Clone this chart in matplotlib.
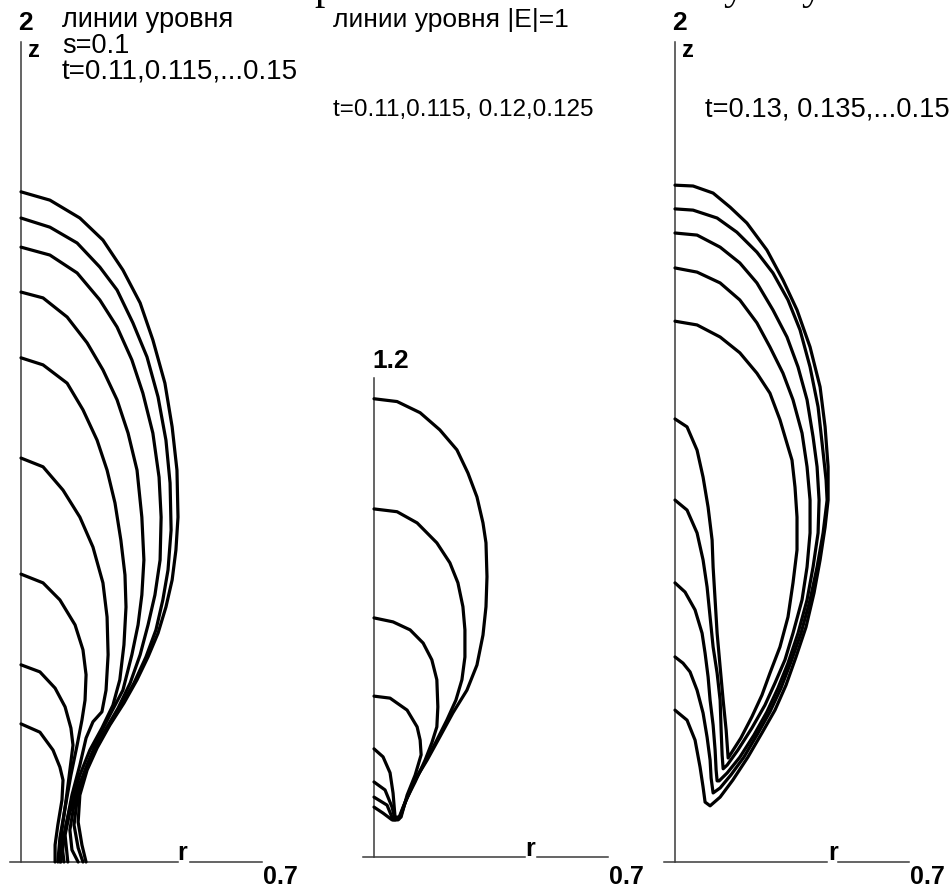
import matplotlib
matplotlib.use('Agg')
import matplotlib.pyplot as plt

# level lines |E|=1, left panel: s=0.1, t=0.11,0.115,...0.15
p1_r = [
	[0, 0.084, 0.171, 0.238, 0.296, 0.346, 0.383, 0.418, 0.439, 0.453, 0.456, 0.450, 0.439, 0.421, 0.398, 0.369, 0.337, 0.299, 0.258, 0.221, 0.192, 0.171, 0.166, 0.177, 0.189],
	[0, 0.084, 0.163, 0.229, 0.279, 0.325, 0.366, 0.398, 0.421, 0.433, 0.436, 0.427, 0.412, 0.392, 0.363, 0.328, 0.287, 0.247, 0.212, 0.183, 0.163, 0.154, 0.166, 0.180],
	[0, 0.084, 0.163, 0.229, 0.279, 0.322, 0.354, 0.383, 0.401, 0.407, 0.404, 0.389, 0.369, 0.346, 0.317, 0.282, 0.241, 0.206, 0.177, 0.154, 0.142, 0.148, 0.166],
	[0, 0.064, 0.134, 0.192, 0.238, 0.279, 0.311, 0.337, 0.351, 0.357, 0.351, 0.340, 0.322, 0.296, 0.258, 0.224, 0.195, 0.166, 0.142, 0.128, 0.136],
	[0, 0.064, 0.134, 0.180, 0.221, 0.250, 0.273, 0.290, 0.302, 0.305, 0.299, 0.287, 0.267, 0.235, 0.200, 0.171, 0.148, 0.131, 0.119, 0.125],
	[0, 0.064, 0.122, 0.171, 0.209, 0.238, 0.250, 0.253, 0.247, 0.235, 0.209, 0.189, 0.171, 0.148, 0.131, 0.116],
	[0, 0.064, 0.113, 0.157, 0.180, 0.189, 0.186, 0.177, 0.163, 0.145, 0.128, 0.113, 0.107],
	[0, 0.055, 0.099, 0.128, 0.145, 0.151, 0.142, 0.131, 0.119, 0.113],
	[0, 0.055, 0.093, 0.113, 0.122, 0.119, 0.107, 0.099, 0.099],
]
p1_z = [
	[1.611, 1.591, 1.548, 1.495, 1.423, 1.344, 1.255, 1.151, 1.046, 0.942, 0.829, 0.750, 0.678, 0.613, 0.550, 0.493, 0.438, 0.382, 0.329, 0.274, 0.221, 0.161, 0.096, 0.041, 0.0],
	[1.548, 1.526, 1.488, 1.430, 1.375, 1.296, 1.214, 1.118, 1.014, 0.911, 0.798, 0.702, 0.630, 0.558, 0.493, 0.430, 0.370, 0.317, 0.264, 0.209, 0.149, 0.089, 0.034, 0.0],
	[1.478, 1.459, 1.416, 1.351, 1.286, 1.207, 1.127, 1.031, 0.925, 0.829, 0.726, 0.642, 0.570, 0.498, 0.430, 0.370, 0.312, 0.255, 0.197, 0.137, 0.077, 0.029, 0.0],
	[1.370, 1.356, 1.310, 1.248, 1.183, 1.111, 1.031, 0.942, 0.829, 0.726, 0.642, 0.570, 0.498, 0.413, 0.353, 0.298, 0.240, 0.178, 0.120, 0.065, 0.0],
	[1.212, 1.195, 1.151, 1.087, 1.014, 0.942, 0.863, 0.774, 0.690, 0.613, 0.522, 0.438, 0.377, 0.322, 0.269, 0.209, 0.149, 0.089, 0.041, 0.0],
	[0.971, 0.950, 0.894, 0.829, 0.757, 0.671, 0.589, 0.498, 0.413, 0.361, 0.337, 0.298, 0.233, 0.161, 0.089, 0.0],
	[0.692, 0.671, 0.630, 0.570, 0.510, 0.450, 0.389, 0.341, 0.281, 0.209, 0.130, 0.058, 0.0],
	[0.474, 0.457, 0.418, 0.373, 0.322, 0.281, 0.221, 0.149, 0.077, 0.0],
	[0.332, 0.312, 0.269, 0.228, 0.197, 0.149, 0.089, 0.041, 0.0],
]

# middle panel: t=0.11,0.115,0.12,0.125 (closed contours)
p2_r = [
	[0, 0.069, 0.138, 0.197, 0.248, 0.281, 0.308, 0.326, 0.335, 0.338, 0.335, 0.326, 0.308, 0.278, 0.236, 0.197, 0.159, 0.117, 0.087, 0.072, 0.054, 0.027, 0],
	[0, 0.069, 0.129, 0.188, 0.227, 0.251, 0.266, 0.272, 0.272, 0.263, 0.245, 0.218, 0.185, 0.153, 0.120, 0.090, 0.075, 0.057, 0.039, 0],
	[0, 0.057, 0.108, 0.147, 0.173, 0.188, 0.191, 0.188, 0.173, 0.153, 0.123, 0.096, 0.078, 0.063, 0.054, 0.033, 0],
	[0, 0.048, 0.099, 0.129, 0.138, 0.141, 0.123, 0.099, 0.081, 0.063, 0.057, 0.048, 0.027, 0],
]
p2_z = [
	[1.148, 1.141, 1.113, 1.070, 1.020, 0.962, 0.902, 0.837, 0.787, 0.702, 0.627, 0.556, 0.481, 0.418, 0.361, 0.301, 0.243, 0.185, 0.125, 0.093, 0.093, 0.110, 0.125],
	[0.872, 0.865, 0.837, 0.787, 0.737, 0.687, 0.627, 0.569, 0.501, 0.444, 0.393, 0.343, 0.288, 0.238, 0.188, 0.130, 0.095, 0.093, 0.130, 0.150],
	[0.599, 0.589, 0.569, 0.536, 0.494, 0.444, 0.376, 0.326, 0.286, 0.243, 0.188, 0.143, 0.098, 0.093, 0.125, 0.168, 0.188],
	[0.403, 0.398, 0.368, 0.326, 0.293, 0.256, 0.205, 0.155, 0.100, 0.100, 0.160, 0.211, 0.251, 0.271],
]

# right panel: t=0.13,0.135,...0.15 (closed contours)
p3_r = [
	[0, 0.054, 0.114, 0.165, 0.215, 0.275, 0.323, 0.365, 0.404, 0.434, 0.449, 0.458, 0.458, 0.449, 0.434, 0.416, 0.392, 0.362, 0.332, 0.299, 0.260, 0.218, 0.173, 0.135, 0.105, 0.090, 0.084, 0.075, 0.060, 0.036, 0],
	[0, 0.054, 0.126, 0.185, 0.245, 0.293, 0.338, 0.374, 0.404, 0.428, 0.440, 0.452, 0.455, 0.443, 0.425, 0.404, 0.377, 0.347, 0.317, 0.284, 0.245, 0.206, 0.167, 0.135, 0.114, 0.108, 0.105, 0.096, 0.084, 0.066, 0.045, 0.024, 0],
	[0, 0.066, 0.135, 0.194, 0.245, 0.293, 0.335, 0.368, 0.395, 0.413, 0.425, 0.431, 0.428, 0.413, 0.395, 0.368, 0.338, 0.308, 0.275, 0.236, 0.194, 0.156, 0.132, 0.126, 0.123, 0.120, 0.114, 0.105, 0.099, 0.090, 0.081, 0.060, 0.030, 0],
	[0, 0.066, 0.135, 0.194, 0.245, 0.284, 0.323, 0.353, 0.380, 0.395, 0.404, 0.404, 0.395, 0.380, 0.353, 0.329, 0.299, 0.269, 0.230, 0.188, 0.156, 0.144, 0.141, 0.138, 0.135, 0.126, 0.114, 0.105, 0.096, 0.084, 0.066, 0.036, 0],
	[0, 0.066, 0.135, 0.194, 0.245, 0.284, 0.314, 0.338, 0.350, 0.359, 0.365, 0.365, 0.353, 0.338, 0.314, 0.284, 0.260, 0.230, 0.197, 0.170, 0.159, 0.153, 0.144, 0.135, 0.126, 0.120, 0.114, 0.111, 0.099, 0.084, 0.066, 0.036, 0],
]
p3_z = [
	[1.627, 1.625, 1.608, 1.574, 1.536, 1.471, 1.399, 1.327, 1.238, 1.142, 1.046, 0.950, 0.870, 0.805, 0.726, 0.647, 0.565, 0.493, 0.425, 0.365, 0.310, 0.252, 0.197, 0.156, 0.135, 0.144, 0.180, 0.228, 0.293, 0.341, 0.365],
	[1.570, 1.567, 1.548, 1.514, 1.466, 1.416, 1.351, 1.279, 1.190, 1.094, 1.007, 0.918, 0.870, 0.791, 0.709, 0.630, 0.550, 0.481, 0.418, 0.361, 0.305, 0.252, 0.209, 0.178, 0.166, 0.202, 0.245, 0.300, 0.358, 0.413, 0.457, 0.478, 0.493],
	[1.512, 1.507, 1.478, 1.440, 1.392, 1.327, 1.262, 1.190, 1.111, 1.022, 0.950, 0.870, 0.791, 0.709, 0.630, 0.550, 0.478, 0.418, 0.361, 0.305, 0.252, 0.214, 0.195, 0.195, 0.221, 0.269, 0.329, 0.389, 0.445, 0.502, 0.550, 0.606, 0.649, 0.671],
	[1.428, 1.418, 1.392, 1.351, 1.296, 1.238, 1.175, 1.111, 1.031, 0.950, 0.870, 0.791, 0.709, 0.630, 0.550, 0.486, 0.430, 0.377, 0.322, 0.269, 0.233, 0.224, 0.257, 0.317, 0.389, 0.454, 0.517, 0.589, 0.661, 0.726, 0.791, 0.846, 0.870],
	[1.300, 1.291, 1.262, 1.224, 1.175, 1.127, 1.063, 0.998, 0.966, 0.901, 0.829, 0.750, 0.671, 0.589, 0.517, 0.454, 0.401, 0.349, 0.298, 0.264, 0.250, 0.317, 0.389, 0.469, 0.550, 0.630, 0.709, 0.774, 0.853, 0.925, 0.990, 1.046, 1.065],
]

W, H = 950, 889
AXCOL = '#3a3a3a'
TXT = ['Liberation Sans', 'DejaVu Sans']
BOLD = ['Liberation Sans', 'DejaVu Sans']

fig = plt.figure(figsize=(W / 100, H / 100), dpi=100)
fig.patch.set_facecolor('white')

# axes placed so that r=0..0.7 and z=0..zmax sit where the frames are
def panel(x0, x1, y0, y1, zmax):
	ax = fig.add_axes([x0 / W, 1 - y0 / H, (x1 - x0) / W, (y0 - y1) / H])
	ax.set_xlim(0, 0.7)
	ax.set_ylim(0, zmax)
	ax.axis('off')
	return ax

def frame(ax, ztop, rgap, rpos):
	ax.plot([0, 0], [0, ztop], color=AXCOL, lw=1.1, clip_on=False)
	ax.plot([-0.032, rgap[0]], [0, 0], color=AXCOL, lw=1.1, clip_on=False)
	ax.plot([rgap[1], 0.7], [0, 0], color=AXCOL, lw=1.1, clip_on=False)
	ax.text(rpos, 0.006 * ax.get_ylim()[1] / 2, 'r', ha='center', va='baseline',
		fontsize=18, fontweight='bold', family=BOLD, clip_on=False)
	# tick label sits on the bottom edge of the figure
	ax.text(0.703, 0, '0.7', ha='left', va='bottom', fontsize=18, fontweight='bold',
		family=BOLD, clip_on=False,
		transform=ax.get_yaxis_transform().__class__(ax.transData, fig.transFigure))

def curves(ax, rs, zs):
	for r, z in zip(rs, zs):
		ax.plot(r, z, color='black', lw=2.3, solid_joinstyle='round',
			solid_capstyle='round', clip_on=False)

# left panel
ax1 = panel(21, 262, 862, 30, 2)
frame(ax1, 1.97, (0.456, 0.491), 0.468)
curves(ax1, p1_r, p1_z)
ax1.text(-0.008, 1.988, '2', ha='left', va='bottom', fontsize=19, fontweight='bold', family=BOLD)
ax1.text(0.02, 1.95, 'z', ha='left', va='center', fontsize=17, fontweight='bold', family=BOLD)

# middle panel
ax2 = panel(374, 608, 857, 378, 1.2)
frame(ax2, 1.2, (0.452, 0.488), 0.467)
curves(ax2, p2_r, p2_z)
ax2.text(-0.005, 1.213, '1.2', ha='left', va='bottom', fontsize=19, fontweight='bold', family=BOLD)

# right panel
ax3 = panel(675, 909, 862, 30, 2)
frame(ax3, 1.97, (0.455, 0.488), 0.473)
curves(ax3, p3_r, p3_z)
ax3.text(-0.008, 1.988, '2', ha='left', va='bottom', fontsize=19, fontweight='bold', family=BOLD)
ax3.text(0.02, 1.95, 'z', ha='left', va='center', fontsize=17, fontweight='bold', family=BOLD)

# captions
def note(x, y, s, size=19):
	fig.text(x / W, 1 - y / H, s, ha='left', va='center', fontsize=size, family=TXT)

note(62, 20, 'линии уровня', 19.5)
note(62, 46, 's=0.1', 19.5)
note(62, 72, 't=0.11,0.115,...0.15', 20)
note(333, 20, 'линии уровня |E|=1', 19)
note(333, 110, 't=0.11,0.115, 0.12,0.125', 17.5)
note(705, 110, 't=0.13, 0.135,...0.15', 19.6)

# tail of the caption line above, cut by the top edge
for x, s in [(314, 'р'), (724, 'у'), (802, 'у')]:
	fig.text(x / W, 1 + 1.5 / H, s, ha='left', va='baseline', fontsize=30,
		family=['Liberation Serif', 'DejaVu Serif'])

fig.savefig('out.png', dpi=100, facecolor='white')
